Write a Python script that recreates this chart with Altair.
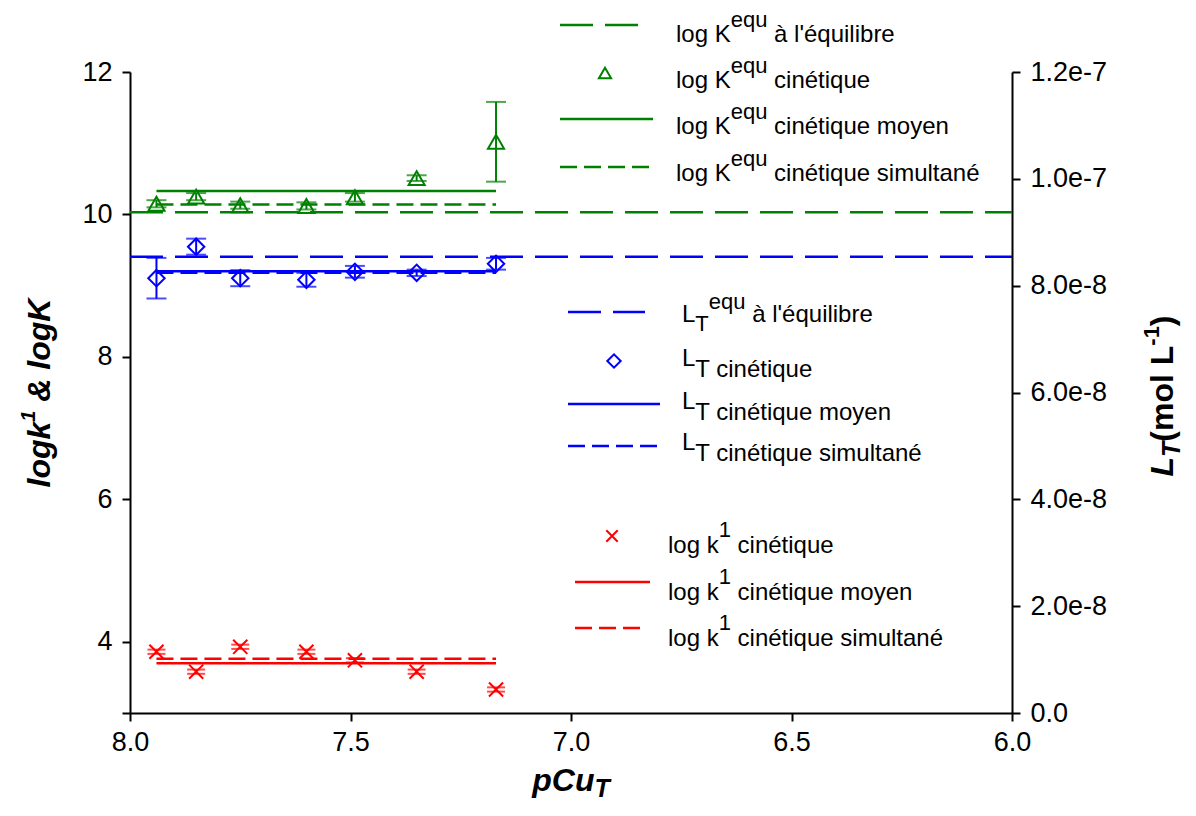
import altair as alt
import pandas as pd

# ---------------- data ----------------
pcu = [7.94, 7.85, 7.75, 7.60, 7.49, 7.35, 7.17]

logK_cin = [10.15, 10.25, 10.13, 10.12, 10.24, 10.51, 11.02]
logK_err = [0.05, 0.05, 0.05, 0.05, 0.06, 0.04, 0.56]
logK_mean = 10.33
logK_sim = 10.14
logK_eq = 10.03

LT_cin = [8.14e-8, 8.73e-8, 8.14e-8, 8.11e-8, 8.26e-8, 8.24e-8, 8.41e-8]
LT_err = [3.8e-9, 1.5e-9, 1.5e-9, 1.3e-9, 1.1e-9, 0.6e-9, 1.1e-9]
LT_mean = 8.27e-8
LT_sim = 8.24e-8
LT_eq = 8.54e-8

logk1_cin = [3.86, 3.58, 3.93, 3.86, 3.74, 3.58, 3.33]
logk1_err = [0.03, 0.03, 0.03, 0.03, 0.03, 0.03, 0.03]
logk1_mean = 3.70
logk1_sim = 3.76

x_domain = [6.0, 8.0]
x_ticks = [6.0, 6.5, 7.0, 7.5, 8.0]
yl_domain = [3, 12]
yl_ticks = [3, 4, 6, 8, 10, 12]
yr_domain = [0, 1.2e-7]
yr_ticks = [0, 2e-8, 4e-8, 6e-8, 8e-8, 1.0e-7, 1.2e-7]

GREEN = "#008000"
BLUE = "#0000ff"
RED = "#ff0000"
FONT = "Liberation Sans, Arial, Helvetica, sans-serif"

W, H = 882, 641
LW = 2.5
LONG = [33, 12]
SHORT = [17, 7]
TICK_FS = 27
LEG_FS = 24
SUP_FS = 22

# ---------------- text width (Arial metrics) ----------------
REG = {' ': 278, "'": 191, '(': 333, ')': 333, '-': 333, '.': 278, '&': 667,
       'C': 722, 'K': 667, 'L': 556, 'T': 611,
       'a': 556, 'b': 556, 'c': 500, 'd': 556, 'e': 556, 'g': 556, 'i': 222, 'k': 500,
       'l': 222, 'm': 833, 'n': 556, 'o': 556, 'p': 556, 'q': 556, 'r': 333, 's': 500,
       't': 278, 'u': 556, 'y': 500, 'à': 556, 'é': 556}
BOLD = {' ': 278, '(': 333, ')': 333, '-': 333, '&': 722, 'C': 722, 'K': 722, 'L': 611,
        'T': 611, 'g': 611, 'k': 556, 'l': 278, 'm': 889, 'o': 611, 'p': 611, 'u': 611}


def tw(s, size, bold=False):
    tab = BOLD if bold else REG
    return sum(556 if c in '0123456789' else tab.get(c, 556) for c in s) * size / 1000.0


ONE = pd.DataFrame({"k": [0]})


def text_part(s, x, y, size, bold=False, italic=False, angle=0):
    kw = dict(text=s, font=FONT, fontSize=size, align="left", baseline="alphabetic",
              color="black", fontWeight="bold" if bold else "normal",
              fontStyle="italic" if italic else "normal")
    if angle:
        kw["angle"] = angle
    return alt.Chart(ONE).mark_text(**kw).encode(x=alt.value(x), y=alt.value(y))


def rich(parts, x, y, angle=0):
    """parts: (text, size, shift, bold, italic); shift >0 = lowered (subscript)."""
    out = []
    cur = 0.0
    for s, size, shift, bold, italic in parts:
        stripped = s.lstrip(" ")
        cur += tw(s[:len(s) - len(stripped)], size, bold)
        if angle == 270:
            out.append(text_part(stripped, x + shift, y - cur, size, bold, italic, 270))
        else:
            out.append(text_part(stripped, x + cur, y + shift, size, bold, italic))
        cur += tw(stripped, size, bold)
    return out


def rich_len(parts):
    return sum(tw(s, size, bold) for s, size, shift, bold, italic in parts)


def leg_rule(x1, x2, y, color, dash=None):
    kw = dict(color=color, strokeWidth=LW)
    if dash:
        kw["strokeDash"] = dash
    return alt.Chart(ONE).mark_rule(**kw).encode(x=alt.value(x1), x2=alt.value(x2), y=alt.value(y))


def leg_sym(x, y, shape, color, size):
    return alt.Chart(ONE).mark_point(shape=shape, filled=False, color=color, size=size,
                                     strokeWidth=2, opacity=1).encode(x=alt.value(x), y=alt.value(y))


# ---------------- scales / axes ----------------
XS = alt.Scale(domain=x_domain, reverse=True, nice=False, zero=False)
XAX = alt.Axis(values=x_ticks, format=".1f", title=None, grid=False, tickSize=8, tickWidth=2,
               domainWidth=2, domainColor="black", tickColor="black", labelColor="black",
               labelFont=FONT, labelFontSize=TICK_FS, labelPadding=8, labelFlush=False)
YLS = alt.Scale(domain=yl_domain, nice=False, zero=False)
YLAX = alt.Axis(orient="left", values=yl_ticks, labelExpr="datum.value == 3 ? '' : datum.label",
                title=None, grid=False, tickSize=8, tickWidth=2, domainWidth=2,
                domainColor="black", tickColor="black", labelColor="black", labelFont=FONT,
                labelFontSize=TICK_FS, labelPadding=10)
YRS = alt.Scale(domain=yr_domain, nice=False, zero=False)
YRAX = alt.Axis(orient="right", values=yr_ticks,
                labelExpr="datum.value == 0 ? '0.0' : format(datum.value, '.1e')",
                title=None, grid=False, tickSize=8, tickWidth=2, domainWidth=2,
                domainColor="black", tickColor="black", labelColor="black", labelFont=FONT,
                labelFontSize=TICK_FS, labelPadding=10, labelFlush=False)


def xe(f):
    return alt.X(f"{f}:Q", scale=XS, axis=XAX)


def yl(f):
    return alt.Y(f"{f}:Q", scale=YLS, axis=YLAX)


def yr(f):
    return alt.Y(f"{f}:Q", scale=YRS, axis=YRAX)


# ---------------- data frames ----------------
def pts(vals, errs):
    return pd.DataFrame({"p": pcu, "v": vals,
                         "lo": [v - e for v, e in zip(vals, errs)],
                         "hi": [v + e for v, e in zip(vals, errs)]})


g_df = pts(logK_cin, logK_err)
b_df = pts(LT_cin, LT_err)
r_df = pts(logk1_cin, logk1_err)


def seg(y, full=False):
    if full:
        return pd.DataFrame({"x1": [x_domain[1]], "x2": [x_domain[0]], "y": [y]})
    return pd.DataFrame({"x1": [pcu[0]], "x2": [pcu[-1]], "y": [y]})


def hline(df, color, yenc, dash=None):
    kw = dict(color=color, strokeWidth=LW)
    if dash:
        kw["strokeDash"] = dash
    return alt.Chart(df).mark_rule(**kw).encode(x=xe("x1"), x2="x2", y=yenc("y"))


def errbars(df, color, yenc, cap=20):
    bar = alt.Chart(df).mark_rule(color=color, strokeWidth=2).encode(x=xe("p"), y=yenc("lo"), y2="hi")
    c1 = alt.Chart(df).mark_tick(color=color, orient="horizontal", size=cap, thickness=2).encode(
        x=xe("p"), y=yenc("lo"))
    c2 = alt.Chart(df).mark_tick(color=color, orient="horizontal", size=cap, thickness=2).encode(
        x=xe("p"), y=yenc("hi"))
    return [bar, c1, c2]


def points(df, color, yenc, shape, size):
    return alt.Chart(df).mark_point(shape=shape, filled=False, color=color, size=size,
                                    strokeWidth=2, opacity=1).encode(x=xe("p"), y=yenc("v"))


XSHAPE = "M-1,-1L1,1M-1,1L1,-1"

left_layers = [
    hline(seg(logK_eq, True), GREEN, yl, LONG),
    hline(seg(logK_mean), GREEN, yl),
    hline(seg(logK_sim), GREEN, yl, SHORT),
    *errbars(g_df, GREEN, yl, 20),
    points(g_df, GREEN, yl, "triangle-up", 260),
    hline(seg(logk1_mean), RED, yl),
    hline(seg(logk1_sim), RED, yl, SHORT),
    *errbars(r_df, RED, yl, 18),
    points(r_df, RED, yl, XSHAPE, 200),
]
right_layers = [
    hline(seg(LT_eq, True), BLUE, yr, LONG),
    hline(seg(LT_mean), BLUE, yr),
    hline(seg(LT_sim), BLUE, yr, SHORT),
    *errbars(b_df, BLUE, yr, 20),
    points(b_df, BLUE, yr, "diamond", 270),
]

left = alt.layer(*left_layers)
right = alt.layer(*right_layers)

# ---------------- legend (drawn inside the plot) ----------------
deco = []
# green
gx = 546
deco += [leg_rule(430, 510, -47, GREEN, LONG)]
deco += rich([("log K", LEG_FS, 0, False, False), ("equ", SUP_FS, -15, False, False),
              (" à l'équilibre", LEG_FS, 0, False, False)], gx, -30)
deco += [leg_sym(475, 1, "triangle-up", GREEN, 150)]
deco += rich([("log K", LEG_FS, 0, False, False), ("equ", SUP_FS, -15, False, False),
              (" cinétique", LEG_FS, 0, False, False)], gx, 16)
deco += [leg_rule(430, 523, 47, GREEN)]
deco += rich([("log K", LEG_FS, 0, False, False), ("equ", SUP_FS, -15, False, False),
              (" cinétique moyen", LEG_FS, 0, False, False)], gx, 62)
deco += [leg_rule(430, 523, 95, GREEN, SHORT)]
deco += rich([("log K", LEG_FS, 0, False, False), ("equ", SUP_FS, -15, False, False),
              (" cinétique simultané", LEG_FS, 0, False, False)], gx, 109)
# blue
bx = 552
deco += [leg_rule(438, 515, 240, BLUE, LONG)]
deco += rich([("L", LEG_FS, 0, False, False), ("T", SUP_FS, 9, False, False),
              ("equ", SUP_FS, -13, False, False), (" à l'équilibre", LEG_FS, 0, False, False)],
             bx, 250)
deco += [leg_sym(484, 289, "diamond", BLUE, 180)]
deco += rich([("L", LEG_FS, 0, False, False), ("T cinétique", LEG_FS, 11, False, False)], bx, 294)
deco += [leg_rule(438, 530, 332, BLUE)]
deco += rich([("L", LEG_FS, 0, False, False), ("T cinétique moyen", LEG_FS, 11, False, False)],
             bx, 337)
deco += [leg_rule(438, 527, 374, BLUE, SHORT)]
deco += rich([("L", LEG_FS, 0, False, False), ("T cinétique simultané", LEG_FS, 11, False, False)],
             bx, 378)
# red
rx = 538
deco += [leg_sym(482, 464, XSHAPE, RED, 130)]
deco += rich([("log k", LEG_FS, 0, False, False), ("1", SUP_FS, -16, False, False),
              (" cinétique", LEG_FS, 0, False, False)], rx, 481)
deco += [leg_rule(445, 520, 510, RED)]
deco += rich([("log k", LEG_FS, 0, False, False), ("1", SUP_FS, -16, False, False),
              (" cinétique moyen", LEG_FS, 0, False, False)], rx, 528)
deco += [leg_rule(445, 515, 556, RED, SHORT)]
deco += rich([("log k", LEG_FS, 0, False, False), ("1", SUP_FS, -16, False, False),
              (" cinétique simultané", LEG_FS, 0, False, False)], rx, 574)

# ---------------- axis titles ----------------
TFS = 32
xt = [("pCu", TFS, 0, True, True), ("T", 25, 6, True, True)]
deco += rich(xt, 441 - rich_len(xt) / 2, 719)

ylt = [("logk", TFS, 0, True, True), ("1", 20, -15, True, True), (" & logK", TFS, 0, True, True)]
deco += rich(ylt, -80, 321 + rich_len(ylt) / 2, angle=270)

yrt = [("L", TFS, 0, True, True), ("T", 25, 7, True, True), ("(mol L", TFS, 0, True, False),
       ("-1", 22, -14, True, False), (")", TFS, 0, True, False)]
deco += rich(yrt, 1043, 324 + rich_len(yrt) / 2, angle=270)

chart = alt.layer(left, right, *deco).resolve_scale(y="independent").properties(
    width=W, height=H,
    autosize=alt.AutoSizeParams(type="none"),
    padding={"left": 122, "top": 64, "right": 176, "bottom": 90},
).configure_view(strokeWidth=0).configure_axis(grid=False)

chart.save("out.html", embed_options={"renderer": "svg", "actions": False})
